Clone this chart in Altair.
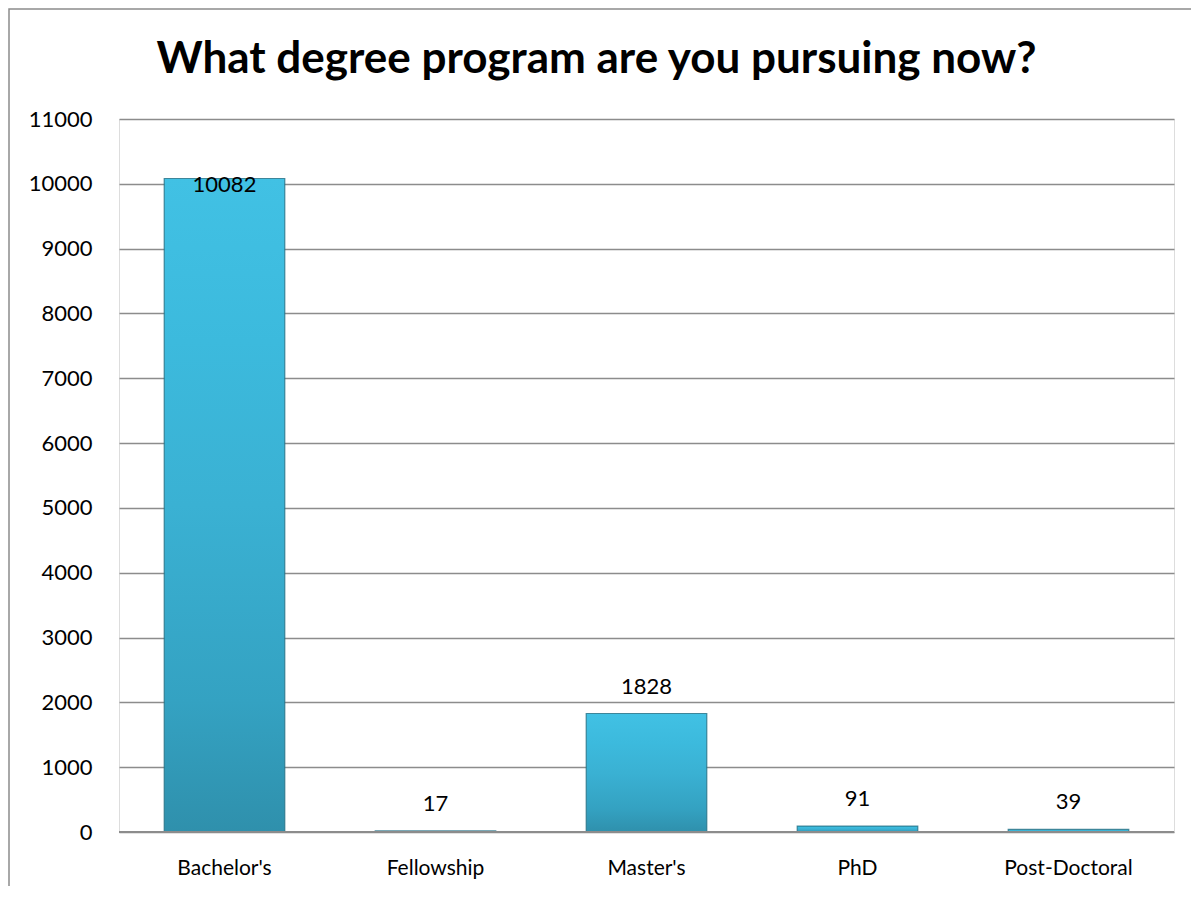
import altair as alt
import pandas as pd

categories = ["Bachelor's", "Fellowship", "Master's", "PhD", "Post-Doctoral"]
counts = [10082, 17, 1828, 91, 39]
y_ticks = list(range(0, 11001, 1000))
title_text = "What degree program are you pursuing now?"

df = pd.DataFrame({"degree": categories, "count": counts})

FONT = "Lato"
W, H = 1055, 713

xenc = alt.X("degree:N", sort=categories,
             scale=alt.Scale(paddingInner=0.4286, paddingOuter=0.2143),
             axis=alt.Axis(title=None, labelAngle=0, labelFontSize=21, labelFont=FONT,
                           labelColor="#000000", labelPadding=25, ticks=False, tickSize=0,
                           domain=False, grid=False))
yscale = alt.Scale(domain=[0, 11000], nice=False)

grad = alt.LinearGradient(
    gradient="linear", x1=0, y1=0, x2=0, y2=1,
    stops=[alt.GradientStop(color="#41C1E4", offset=0),
           alt.GradientStop(color="#3CBADD", offset=0.25),
           alt.GradientStop(color="#3AB1D3", offset=0.5),
           alt.GradientStop(color="#34A2C2", offset=0.8),
           alt.GradientStop(color="#2F90AC", offset=1)])

base = alt.Chart(df)

bars = base.mark_bar(color=grad, stroke="#246F85", strokeWidth=1.2, strokeOpacity=0.8).encode(
    x=xenc,
    y=alt.Y("count:Q", scale=yscale,
            axis=alt.Axis(title=None, values=y_ticks, format="d", labelFontSize=22, labelFont=FONT,
                          labelColor="#000000", labelPadding=27, ticks=False, tickSize=0,
                          domain=False, grid=True, gridColor="#8C8C8C", gridWidth=1.5)),
)

labels_out = base.transform_filter("datum.count < 10000").mark_text(
    font=FONT, fontSize=22, color="#000000", baseline="alphabetic", dy=-20
).encode(x=alt.X("degree:N", sort=categories), y=alt.Y("count:Q", scale=yscale), text="count:Q")

labels_in = base.transform_filter("datum.count >= 10000").mark_text(
    font=FONT, fontSize=22, color="#000000", baseline="alphabetic", dy=13
).encode(x=alt.X("degree:N", sort=categories), y=alt.Y("count:Q", scale=yscale), text="count:Q")

one = alt.Data(values=[{"t": title_text}])

baseline_rule = alt.Chart(one).mark_rule(color="#8C8C8C", strokeWidth=2).encode(
    x=alt.value(0), x2=alt.value(W), y=alt.value(H))

frame = alt.Chart(one).mark_rect(
    fill="#FFFFFF", fillOpacity=0, stroke="#8C8C8C", strokeWidth=1.5).encode(
    x=alt.value(-110), x2=alt.value(W + 60), y=alt.value(-110), y2=alt.value(H + 100))

title = alt.Chart(one).mark_text(
    font=FONT, fontSize=44, fontWeight="bold", color="#000000",
    align="center", baseline="alphabetic").encode(
    x=alt.value(W / 2 - 50), y=alt.value(-46), text="t:N")

chart = alt.layer(frame, bars, baseline_rule, labels_out, labels_in, title).properties(
    width=W, height=H,
    autosize=alt.AutoSizeParams(type="none"),
    padding={"left": 111, "top": 111, "right": 17, "bottom": 54},
).configure_view(stroke=None).configure(background="#FFFFFF")

chart.save("out.html", embed_options={"renderer": "svg", "actions": False})
